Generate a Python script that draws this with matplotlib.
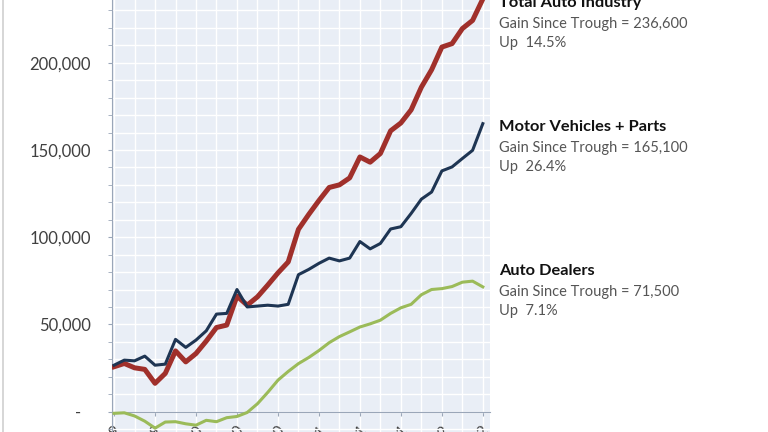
import numpy as np
import matplotlib
matplotlib.use("Agg")
import matplotlib.pyplot as plt
from matplotlib.ticker import FuncFormatter, MultipleLocator
from matplotlib.lines import Line2D

plt.rcParams['font.family'] = ['Lato', 'DejaVu Sans']

# monthly change in jobs since the trough, Jun-09 .. Jun-12
months = list(range(37))
tick_labels = ["Jun-09", "Oct-09", "Feb-10", "Jun-10", "Oct-10",
               "Feb-11", "Jun-11", "Oct-11", "Feb-12", "Jun-12"]

total_auto = [25700, 27600, 25100, 24200, 16200, 21900, 34800, 28500, 33300, 40400,
              48200, 49600, 66200, 61000, 65800, 72500, 79500, 85800, 104500, 113000,
              121000, 128500, 130000, 134000, 146000, 143000, 148000, 161000, 165500, 173000,
              186000, 196000, 209000, 211000, 219600, 224300, 236600]
motor_parts = [26600, 29500, 29100, 31800, 26600, 27200, 41400, 36800, 41000, 46300,
               55900, 56300, 70000, 60000, 60500, 61000, 60500, 61500, 78500, 81500,
               85000, 88000, 86400, 88000, 97500, 93300, 96400, 104700, 106000, 113600,
               121800, 125900, 138000, 140300, 145100, 149800, 165100]
dealers = [-1000, -700, -2500, -5500, -9500, -6000, -5800, -7000, -7800, -5000,
           -5800, -3500, -2800, -500, 4500, 11000, 18000, 23000, 27500, 31000,
           35000, 39500, 43000, 45700, 48500, 50300, 52400, 56300, 59500, 61500,
           67000, 70000, 70500, 71700, 74200, 74800, 71500]

notes = [
    ("Total Auto Industry", "Gain Since Trough = 236,600", "Up  14.5%", 3),
    ("Motor Vehicles + Parts", "Gain Since Trough = 165,100", "Up  26.4%", 127),
    ("Auto Dealers", "Gain Since Trough = 71,500", "Up  7.1%", 271),
]


def ylab(v, pos):
    # accounting style: zero shown as a dash set in from the right
    if v == 0:
        return "-\u2007"
    return f"{int(v):,}"


W, H = 768, 432
fig = plt.figure(figsize=(W / 100, H / 100), dpi=100)
fig.patch.set_facecolor("white")

# plot area, extends a little past the bottom of the picture
ax = fig.add_axes([112 / W, (H - 436) / H, (490 - 112) / W, 436 / H])
ax.set_facecolor("#e9eef6")

ax.plot(months, dealers, color="#9bbb59", lw=2.2, solid_joinstyle="round", zorder=3)
ax.plot(months, total_auto, color="#a0302b", lw=3.6, solid_joinstyle="round", zorder=4)
ax.plot(months, motor_parts, color="#1e3553", lw=2.2, solid_joinstyle="round", zorder=5)

ax.set_xlim(-0.2, 36.7)
ax.set_ylim(-14000, 236000)

ax.yaxis.set_major_locator(MultipleLocator(50000))
ax.yaxis.set_minor_locator(MultipleLocator(10000))
ax.yaxis.set_major_formatter(FuncFormatter(ylab))
ax.set_xticks(months[::4])
ax.set_xticklabels(tick_labels)
ax.xaxis.set_minor_locator(MultipleLocator(2))

ax.grid(True, which="both", color="white", lw=1.0, zorder=0)
ax.set_axisbelow(True)

ax.spines["bottom"].set_position(("data", 0))
for s in ["top", "right"]:
    ax.spines[s].set_visible(False)
ax.spines["left"].set_color("#9aa6b8")
ax.spines["bottom"].set_color("#9aa6b8")
ax.tick_params(axis="y", which="major", direction="out", length=3, color="#9aa6b8",
               labelsize=12, labelcolor="#404040", pad=12)
ax.tick_params(axis="y", which="minor", direction="out", length=3, color="#9aa6b8")
ax.tick_params(axis="x", which="major", direction="out", length=3, color="#9aa6b8",
               labelsize=11, labelcolor="#404040", pad=5)
ax.tick_params(axis="x", which="minor", length=0)
plt.setp(ax.get_xticklabels(), rotation=45, ha="right", rotation_mode="anchor")

# notes on the right
for title, gain, up, ytop in notes:
    fig.text(499 / W, 1 - ytop / H, title, fontsize=11.8, fontweight="bold",
             color="#111111", va="center", ha="left")
    fig.text(499 / W, 1 - (ytop + 21) / H, gain, fontsize=10.5, color="#555555",
             va="center", ha="left")
    fig.text(499 / W, 1 - (ytop + 40) / H, up, fontsize=10.5, color="#555555",
             va="center", ha="left")

# thin frame line on the left edge
fig.add_artist(Line2D([3 / W, 3 / W], [0, 1], color="#d0d0d0", lw=1.2))

fig.savefig("out.png", dpi=100)
